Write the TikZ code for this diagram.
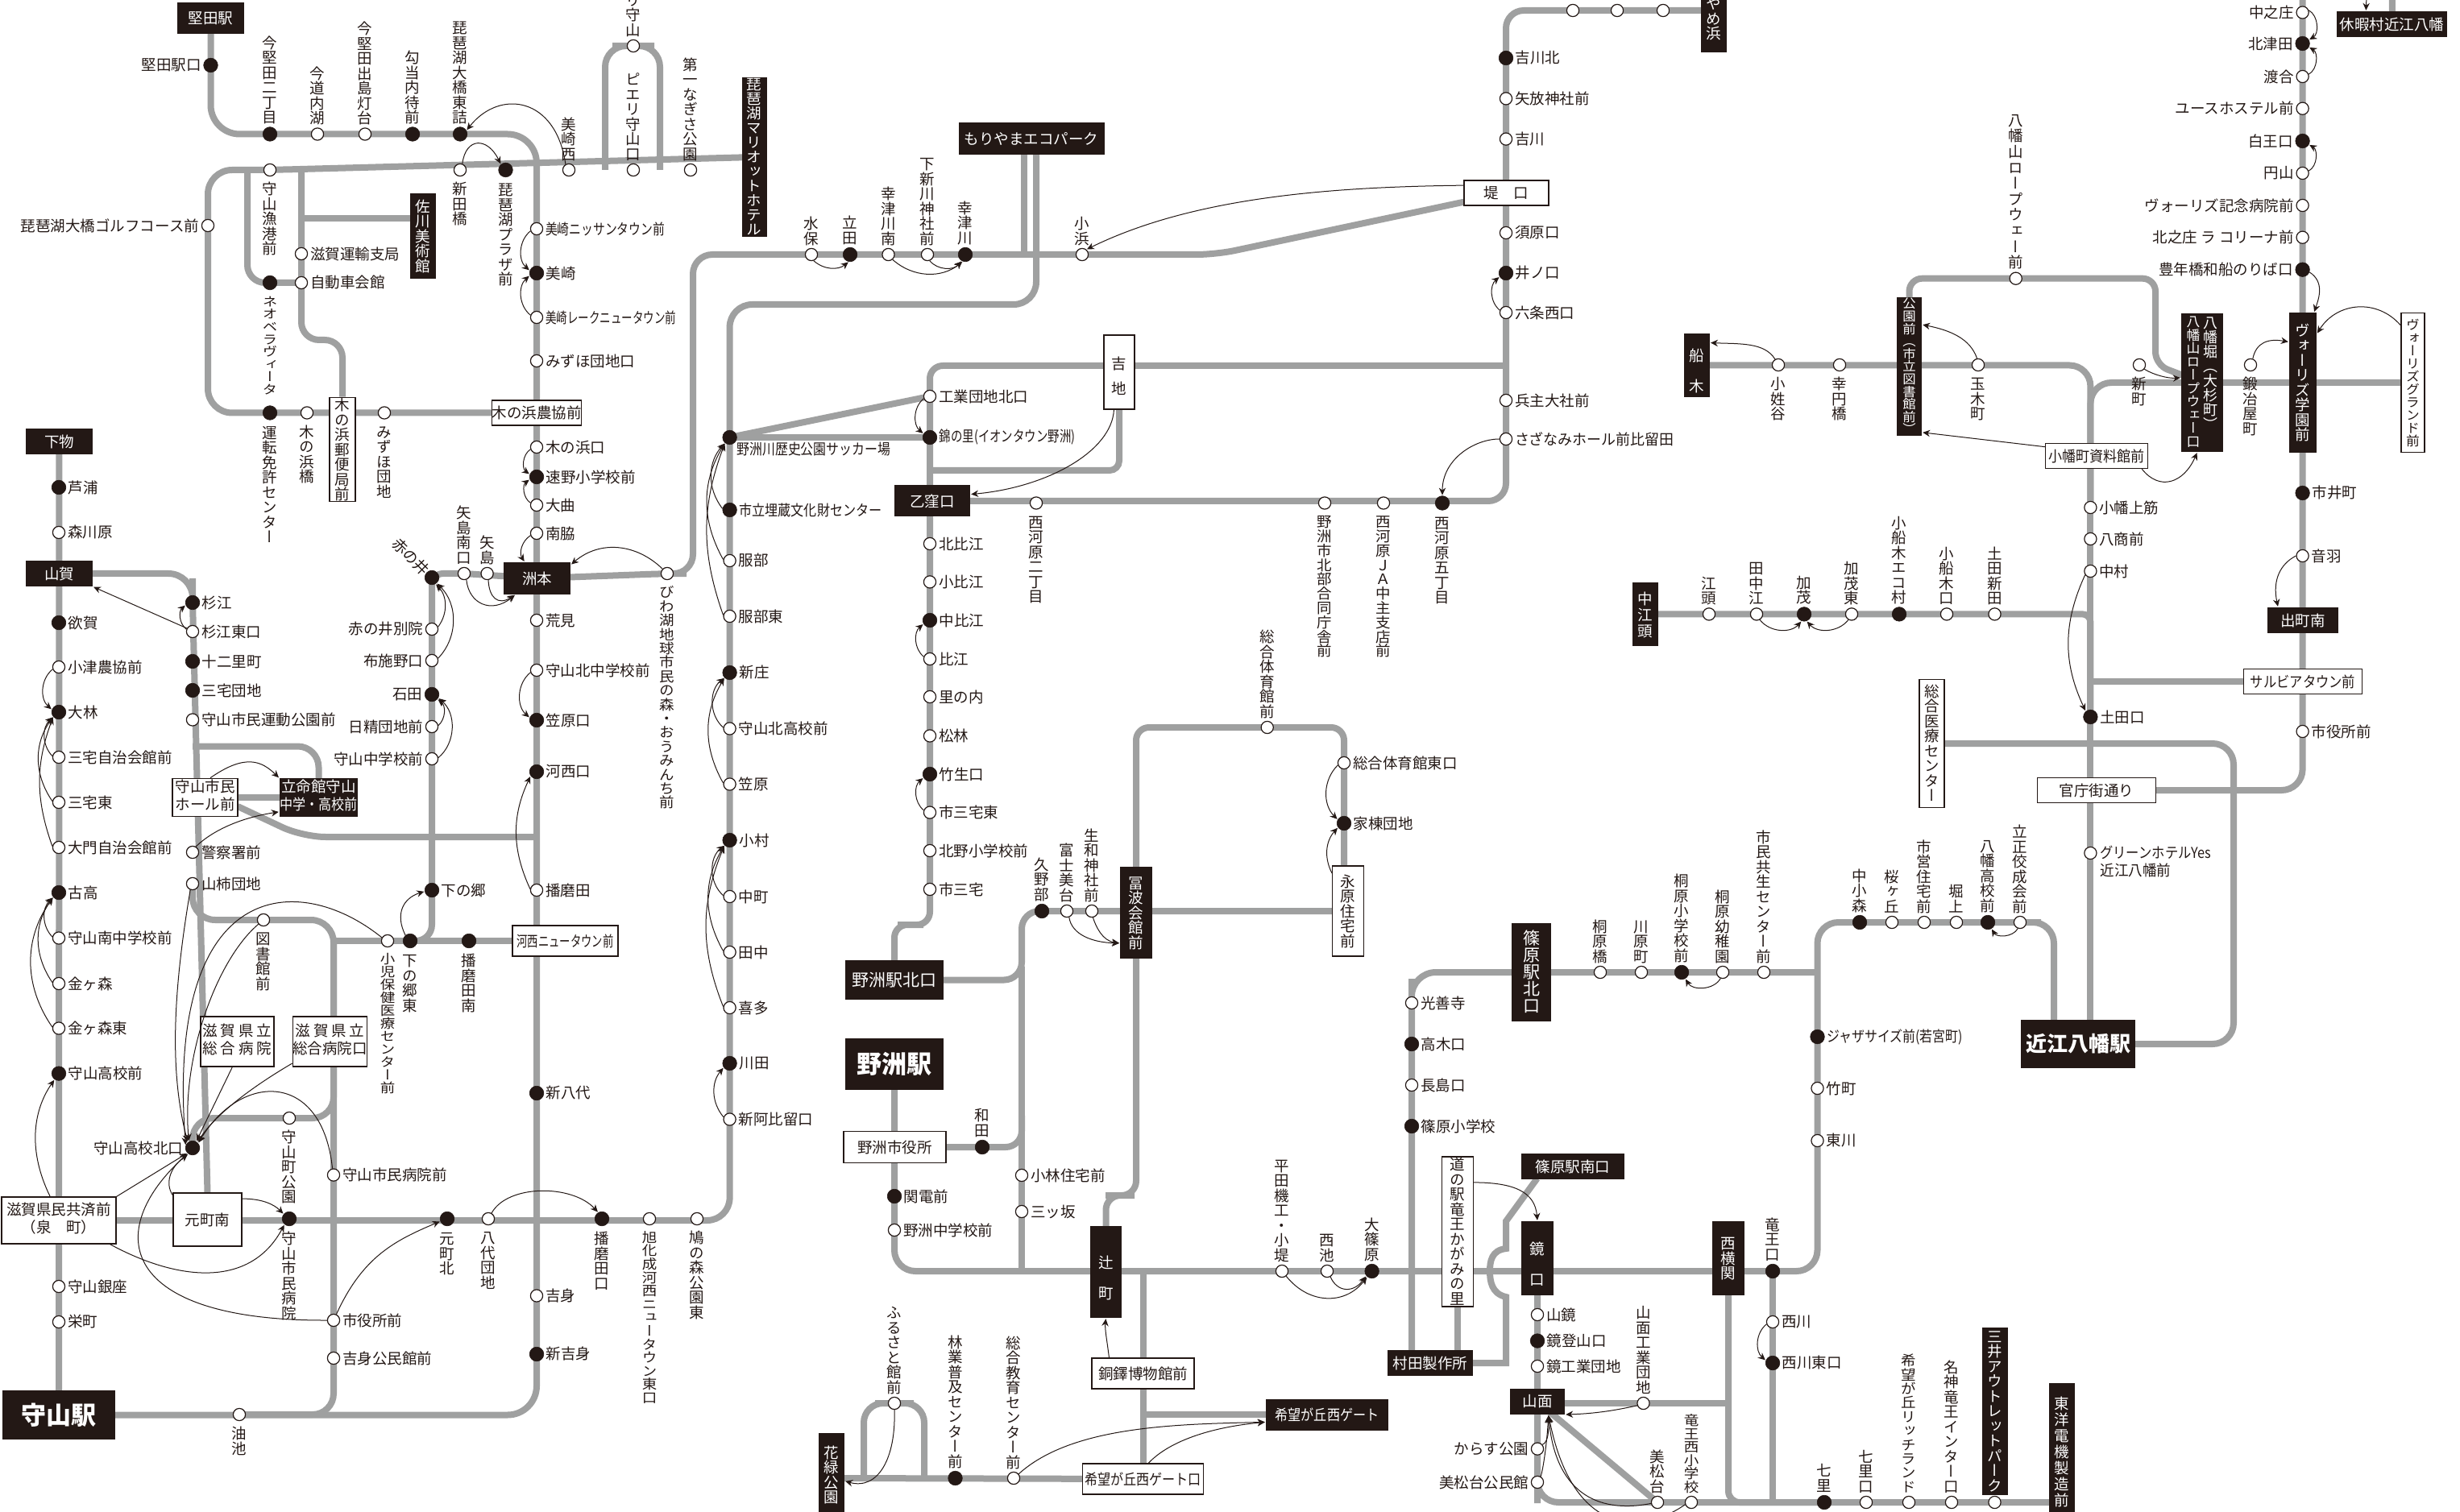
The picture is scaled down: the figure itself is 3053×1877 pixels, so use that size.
\documentclass[tikz,border=0pt]{standalone}
\usepackage{fontspec}
\usepackage{graphicx}
\usetikzlibrary{arrows.meta,backgrounds}
\setmainfont{Noto Sans CJK JP}
\newfontfamily\jv[RawFeature=+vert]{Noto Sans CJK JP}
\definecolor{ink}{HTML}{231815}
\definecolor{rt}{HTML}{9FA0A0}
\newdimen\vtp
\newdimen\vtem
\def\vte{\vte}
\def\vdflt{9.25pt}
\def\vtl#1{\ifx#1\vte\else\hbox to 1em{\vrule height .88\vtp depth .12\vtp width 0pt\hss\smash{\scalebox{1}[\vtr]{#1}}\hss}\expandafter\vtl\fi}
\newcommand\vt[2][\vdflt]{\vbox{\offinterlineskip\vtp=#1\relax\jv\vtem=1em\relax\pgfmathsetmacro\vtr{min(1,\the\vtp/\the\vtem)}\vtl#2\vte}}
\newcommand\Sq[2]{\scalebox{#1}[1]{#2}}
\newcommand\Fs[1]{\fontsize{#1}{#1}\selectfont}
\newcommand\Ln[2]{\begin{tabular}{@{}c@{}}#1\\#2\end{tabular}}
\newcommand\labR[2]{\node[lab,anchor=west] (#1t) at ([xshift=1.2pt]#1.east) {#2};}
\newcommand\labL[2]{\node[lab,anchor=east] (#1t) at ([xshift=-1.2pt]#1.west) {#2};}
\newcommand\labA[2]{\node[lab,anchor=south] (#1t) at ([yshift=1pt]#1.north) {\vt{#2}};}
\newcommand\labB[2]{\node[lab,anchor=north] (#1t) at ([yshift=-3pt]#1.south) {\vt{#2}};}
\newcommand\labN[2]{}
\newcommand\St[6]{\node[st#2] (#1) at (#3,#4) {}; \csname lab#5\endcsname{#1}{#6}}
\newcommand\StP[7]{\def\vdflt{#1}\St{#2}{#3}{#4}{#5}{#6}{#7}\def\vdflt{9.25pt}}
\newcommand\Bx[7]{\node[box#2,minimum width=#5*.5pt,minimum height=#6*.5pt] (#1) at (#3,#4) {#7};}
\tikzset{
  every node/.style={font=\fontsize{9.25pt}{11.3pt}\selectfont,text=ink},
  sto/.style={circle,draw=ink,fill=white,line width=.6pt,minimum size=7.6pt,inner sep=0pt},
  stc/.style={circle,draw=ink,fill=ink,line width=.3pt,minimum size=8.8pt,inner sep=0pt},
  lab/.style={inner sep=0pt},
  boxk/.style={fill=ink,text=white,inner sep=0pt},
  boxw/.style={fill=white,draw=ink,line width=.6pt,inner sep=0pt},
  route/.style={draw=rt,line width=4pt},
  arr/.style={draw=ink,line width=.5pt,-{Stealth[length=4.5pt,width=4.2pt]},shorten >=.4pt},
}
\begin{document}
\begin{tikzpicture}[x=.5pt,y=-.5pt]
\useasboundingbox (0,0) rectangle (3053,1877);
% ---------- boxes
\Bx{katata}{k}{261.5}{23}{83}{39}{堅田駅}
\Bx{mari}{k}{936}{195}{31}{190}{\vt[9pt]{琵琶湖マリオットホテル}}
\Bx{sagawa}{k}{525}{293}{32}{106}{\vt{佐川美術館}}
\Bx{kihamap}{w}{425}{558}{32}{128}{\vt{木の浜郵便局前}}
\Bx{kihamaj}{w}{666}{512.5}{106}{31}{木の浜農協前}
\Bx{shimo}{k}{73.5}{548}{83}{32}{下物}
\Bx{yamaga}{k}{73.5}{712}{83}{32}{山賀}
\Bx{susu}{k}{666.5}{718}{83}{40}{洲本}
\Bx{hall}{w}{254.5}{990}{81}{47.5}{\Ln{守山市民}{ホール前}}
\Bx{ritsu}{k}{395.5}{990}{97}{47.5}{\Ln{立命館守山}{\Sq{.87}{中学・高校前}}}
\Bx{kase}{w}{701.5}{1168}{131}{38}{\Sq{.72}{河西ニュータウン前}}
\Bx{kenr}{w}{294.5}{1293}{91}{62}{\Ln{滋\hspace{2pt}賀\hspace{2pt}県\hspace{2pt}立}{総\hspace{2pt}合\hspace{2pt}病\hspace{2pt}院}}
\Bx{kenrg}{w}{409.5}{1293}{91}{62}{\Ln{滋\hspace{2pt}賀\hspace{2pt}県\hspace{2pt}立}{総合病院口}}
\Bx{kyosai}{w}{73}{1515}{142}{58}{\Ln{滋賀県民共済前}{（泉　町）}}
\Bx{motom}{w}{257.5}{1514}{85}{66}{元町南}
\Bx{morist}{k}{73}{1756.5}{140}{61}{{\Fs{15.5pt}\bfseries 守山駅}}
\Bx{moep}{k}{1280}{172}{181}{40}{もりやまエコパーク}
\Bx{tsutsu}{w}{1869.5}{239.5}{105}{31}{堤　口}
\Bx{yoshiji}{w}{1389}{462}{38}{92}{\vt[15.5pt]{吉地}}
\Bx{okubo}{k}{1157}{622}{94}{39}{乙窪口}
\Bx{noyk}{k}{1110}{1216.5}{122.5}{49}{{\Fs{10.5pt}野洲駅北口}}
\Bx{tonami}{k}{1410}{1133}{39.5}{114}{\vt{冨波会館前}}
\Bx{naga}{w}{1673}{1131}{38.5}{112}{\vt{永原住宅前}}
\Bx{noy}{k}{1110}{1321}{122.5}{64}{{\Fs{15.5pt}\bfseries 野洲駅}}
\Bx{noshi}{w}{1110.5}{1424}{127}{38.5}{野洲市役所}
\Bx{tsuji}{k}{1372.5}{1579}{39}{114}{\vt[19pt]{辻町}}
\Bx{doto}{w}{1418.5}{1705}{127}{38}{銅鐸博物館前}
\Bx{kibo}{k}{1647}{1756}{152}{39}{\Sq{.87}{希望が丘西ゲート}}
\Bx{kibog}{w}{1418.5}{1836}{150}{38}{\Sq{.87}{希望が丘西ゲート口}}
\Bx{kary}{k}{1032}{1831}{32}{104}{\vt{花緑公園}}
\Bx{shino}{k}{1900.5}{1207}{49}{122}{{\Fs{10.5pt}\vt[10.5pt]{篠原駅北口}}}
\Bx{michi}{w}{1809}{1529}{38.5}{186}{\vt{道の駅竜王かがみの里}}
\Bx{murata}{k}{1775}{1692}{106}{32}{村田製作所}
\Bx{shinm}{k}{1952}{1448}{128.5}{32}{篠原駅南口}
\Bx{kaga}{k}{1908}{1562}{39.5}{92}{\vt[19pt]{鏡口}}
\Bx{yamo}{k}{1908}{1740}{68}{32}{山面}
\Bx{nishiy}{k}{2145}{1562}{39.5}{92}{\vt{西横関}}
\Bx{mitsui}{k}{2476}{1751.5}{32}{208}{\vt{三井アウトレットパーク}}
\Bx{toyo}{k}{2559}{1802}{32.5}{170}{\vt[10pt]{東洋電機製造前}}
\Bx{omi}{k}{2579}{1296}{142}{60.5}{{\Fs{13pt}\bfseries 近江八幡駅}}
\Bx{soiry}{w}{2397.5}{923}{31}{159}{\vt{総合医療センター}}
\Bx{kancho}{w}{2602}{981}{147}{31}{官庁街通り}
\Bx{sarubi}{w}{2858}{846}{147}{31}{\Sq{.88}{サルビアタウン前}}
\Bx{demachi}{k}{2858}{770}{88}{32}{出町南}
\Bx{nakae}{k}{2042}{762.5}{32}{79.5}{\vt[10pt]{中江頭}}
\Bx{funaki}{k}{2106}{453.5}{31.5}{79}{\vt[19pt]{船木}}
\Bx{koen}{k}{2369.5}{455}{31}{166}{{\Fs{8.2pt}\vt[7.8pt]{公園前（市立図書館前）}}}
\Bx{hachi}{k}{2733}{475}{52}{172}{}
\node[lab,text=white,anchor=north] (hachil) at (2722,391) {{\Fs{8.4pt}\vt[8.25pt]{八幡山ロープウェー口}}};
\node[lab,text=white,anchor=north] (hachir) at (2743,391) {{\Fs{9pt}\vt[9pt]{八幡堀（大杉町）}}};
\Bx{vori}{k}{2858}{475}{34}{173.5}{\vt{ヴォーリズ学園前}}
\Bx{vorig}{w}{2994.5}{475}{29}{173.5}{{\Fs{8.4pt}\vt[8pt]{ヴォーリズグランド前}}}
\Bx{yame}{k}{2127}{14}{32}{102}{\vt{あやめ浜}}
\Bx{kyuka}{k}{2968.5}{30}{137}{32}{休暇村近江八幡}
\Bx{koban}{w}{2602}{566}{127}{31}{\Sq{.92}{小幡町資料館前}}
% ---------- stations
\St{a1}{c}{261.5}{81}{L}{堅田駅口}
\St{a2}{c}{335}{166.5}{A}{今堅田二丁目}
\St{a3}{o}{394}{166.5}{A}{今道内湖}
\St{a4}{o}{453}{166.5}{A}{今堅田出島灯台}
\St{a5}{c}{512}{166.5}{A}{勾当内待前}
\St{a6}{c}{571}{166.5}{A}{琵琶湖大橋東詰}
\St{b1}{o}{335}{211}{B}{守山漁港前}
\St{b2}{o}{571}{211}{B}{新田橋}
\St{b3}{c}{627.5}{211}{B}{琵琶湖プラザ前}
\St{b4}{o}{706}{211}{A}{美崎西}
\St{b5}{o}{786}{211}{A}{ピエリ守山口}
\St{b6}{o}{857}{211}{A}{第一なぎさ公園}
\St{b7}{o}{786}{57}{A}{ピエリ守山}
\St{c1}{o}{258}{280}{L}{琵琶湖大橋ゴルフコース前}
\StP{7.8pt}{c2}{c}{335}{351}{B}{ネオベラヴィータ}
\St{c3}{o}{374}{351}{R}{自動車会館}
\St{c4}{o}{374}{315}{R}{滋賀運輸支局}
\St{d1}{c}{335}{512.5}{B}{運転免許センター}
\St{d2}{o}{381}{512.5}{B}{木の浜橋}
\St{d3}{o}{477}{512.5}{B}{みずほ団地}
\St{e1}{o}{666}{284}{R}{\Sq{.8}{美崎ニッサンタウン前}}
\St{e2}{c}{666}{339}{R}{美崎}
\St{e3}{o}{666}{394}{R}{\Sq{.73}{美崎レークニュータウン前}}
\St{e4}{o}{666}{448}{R}{みずほ団地口}
\St{e5}{o}{666}{555}{R}{木の浜口}
\St{e6}{c}{666}{592}{R}{速野小学校前}
\St{e7}{o}{666}{627}{R}{大曲}
\St{e8}{o}{666}{662}{R}{南脇}
\St{e9}{o}{666}{770}{R}{荒見}
\St{e10}{o}{666}{832}{R}{守山北中学校前}
\St{e11}{c}{666}{894}{R}{笠原口}
\St{e12}{c}{666}{958}{R}{河西口}
\St{e13}{o}{666}{1105}{R}{播磨田}
\St{e14}{c}{666}{1357}{R}{新八代}
\St{e15}{o}{666}{1608.5}{R}{吉身}
\St{e16}{c}{666}{1681}{R}{新吉身}
\St{f1}{c}{73}{605}{R}{芦浦}
\St{f2}{o}{73}{661}{R}{森川原}
\St{f3}{c}{73}{773}{R}{欲賀}
\St{f4}{o}{73}{828}{R}{小津農協前}
\St{f5}{c}{73}{884}{R}{大林}
\St{f6}{o}{73}{940}{R}{三宅自治会館前}
\St{f7}{o}{73}{996}{R}{三宅東}
\St{f8}{o}{73}{1052}{R}{大門自治会館前}
\St{f9}{c}{73}{1108}{R}{古高}
\St{f10}{o}{73}{1164.5}{R}{守山南中学校前}
\St{f11}{o}{73}{1221}{R}{金ヶ森}
\St{f12}{o}{73}{1276.5}{R}{金ヶ森東}
\St{f13}{c}{73}{1332.6}{R}{守山高校前}
\St{f14}{o}{73}{1597}{R}{守山銀座}
\St{f15}{o}{73}{1641}{R}{栄町}
\St{g1}{c}{239}{748}{R}{杉江}
\St{g2}{o}{239}{784}{R}{杉江東口}
\St{g3}{c}{239}{821}{R}{十二里町}
\St{g4}{c}{239}{857}{R}{三宅団地}
\St{g5}{o}{239}{893.5}{R}{守山市民運動公園前}
\St{g6}{o}{239}{1058}{R}{警察署前}
\St{g7}{o}{239}{1097}{R}{山柿団地}
\St{g8}{c}{239}{1425}{L}{守山高校北口}
\St{h0}{c}{536}{717}{N}{}
\node[lab,rotate=-45] (h0t) at (510,691) {赤の井};
\St{h1}{o}{536}{781}{L}{赤の井別院}
\St{h2}{o}{536}{820}{L}{布施野口}
\St{h3}{c}{536}{862}{L}{石田}
\St{h4}{o}{536}{902}{L}{日精団地前}
\St{h5}{o}{536}{942}{L}{守山中学校前}
\St{h6}{c}{536}{1105}{R}{下の郷}
\St{i1}{o}{576}{712}{A}{矢島南口}
\St{i2}{o}{604.6}{712}{A}{矢島}
\StP{8.7pt}{i3}{o}{828}{712}{B}{びわ湖地球市民の森・おうみんち前}
\StP{8pt}{j1}{o}{481}{1168}{B}{小児保健医療センター前}
\St{j2}{c}{509}{1168}{B}{下の郷東}
\St{j3}{c}{582}{1168}{B}{播磨田南}
\St{k1}{o}{327}{1142}{B}{図書館前}
\St{k2}{o}{359}{1388}{B}{守山町公園}
\St{l1}{o}{414}{1458.6}{R}{守山市民病院前}
\St{l2}{o}{414}{1639}{R}{市役所前}
\St{l3}{o}{414}{1686}{R}{吉身公民館前}
\St{m0}{o}{297}{1756}{B}{油池}
\St{n1}{c}{359}{1513}{B}{守山市民病院}
\St{n2}{c}{555}{1513}{B}{元町北}
\St{n3}{o}{606}{1513}{B}{八代団地}
\St{n4}{c}{747}{1513}{B}{播磨田口}
\StP{8.3pt}{n5}{o}{806}{1513}{B}{旭化成河西ニュータウン東口}
\St{n6}{o}{865}{1513}{B}{鳩の森公園東}
\St{p1}{c}{905.6}{543}{N}{}
\node[lab,anchor=west] (p1t) at (914,558) {\Sq{.86}{野洲川歴史公園サッカー場}};
\St{p2}{c}{905.6}{633}{R}{\Sq{.87}{市立埋蔵文化財センター}}
\St{p3}{o}{905.6}{696}{R}{服部}
\St{p4}{o}{905.6}{765}{R}{服部東}
\St{p5}{c}{905.6}{835}{R}{新庄}
\St{p6}{o}{905.6}{904.5}{R}{守山北高校前}
\St{p7}{o}{905.6}{973.5}{R}{笠原}
\St{p8}{c}{905.6}{1043}{R}{小村}
\St{p9}{o}{905.6}{1113}{R}{中町}
\St{p10}{o}{905.6}{1182}{R}{田中}
\St{p11}{o}{905.6}{1251}{R}{喜多}
\St{p12}{c}{905.6}{1320}{R}{川田}
\St{p13}{o}{905.6}{1389.5}{R}{新阿比留口}
\St{q1}{o}{1007}{316}{A}{水保}
\St{q2}{c}{1055}{316}{A}{立田}
\St{q3}{o}{1102.5}{316}{A}{幸津川南}
\St{q4}{o}{1151}{316}{A}{下新川神社前}
\St{q5}{c}{1198}{316}{A}{幸津川}
\St{q6}{o}{1343}{316}{A}{小浜}
\St{r1}{c}{1869}{72}{R}{吉川北}
\St{r2}{o}{1869}{122.4}{R}{矢放神社前}
\St{r3}{o}{1869}{172.6}{R}{吉川}
\St{r4}{o}{1869}{289}{R}{須原口}
\St{r5}{c}{1869}{339}{R}{井ノ口}
\St{r6}{o}{1869}{388}{R}{六条西口}
\St{r7}{o}{1869}{497}{R}{兵主大社前}
\St{r8}{o}{1869}{545}{R}{\Sq{.97}{さざなみホール前比留田}}
\St{t1}{o}{1952}{13}{N}{}
\St{t2}{o}{2007}{13}{N}{}
\St{t3}{o}{2064}{13}{N}{}
\St{u1}{o}{1286}{624.5}{B}{西河原二丁目}
\StP{8.9pt}{u2}{o}{1644}{624.5}{B}{野洲市北部合同庁舎前}
\StP{8.9pt}{u3}{o}{1717}{624.5}{B}{西河原ＪＡ中主支店前}
\St{u4}{c}{1790}{624.5}{B}{西河原五丁目}
\St{v1}{o}{1154}{492}{R}{工業団地北口}
\St{v2}{c}{1154}{543}{R}{\Sq{.78}{錦の里(イオンタウン野洲)}}
\St{w1}{o}{1154}{675}{R}{北比江}
\St{w2}{o}{1154}{722.4}{R}{小比江}
\St{w3}{c}{1154}{770}{R}{中比江}
\St{w4}{o}{1154}{818}{R}{比江}
\St{w5}{o}{1154}{865}{R}{里の内}
\St{w6}{o}{1154}{913.5}{R}{松林}
\St{w7}{c}{1154}{961}{R}{竹生口}
\St{w8}{o}{1154}{1008.6}{R}{市三宅東}
\St{w9}{o}{1154}{1056}{R}{北野小学校前}
\St{w10}{o}{1154}{1104}{R}{市三宅}
\St{x1}{c}{1293}{1131}{A}{久野部}
\St{x2}{o}{1324}{1131}{A}{富士美台}
\St{x3}{o}{1355}{1131}{A}{生和神社前}
\St{y1}{o}{1572.7}{903}{A}{総合体育館前}
\St{y2}{o}{1668}{947}{R}{総合体育館東口}
\St{y3}{c}{1668}{1022}{R}{家棟団地}
\St{aa1}{c}{1219}{1424}{A}{和田}
\St{aa2}{c}{1110}{1485}{R}{関電前}
\St{aa3}{o}{1110}{1527}{R}{野洲中学校前}
\St{aa4}{o}{1268}{1459}{R}{小林住宅前}
\St{aa5}{o}{1268}{1504}{R}{三ッ坂}
\St{ab1}{o}{1591}{1578}{A}{平田機工・小堤}
\St{ab2}{o}{1647}{1578}{A}{西池}
\St{ab3}{c}{1702.6}{1578}{A}{大篠原}
\St{ac1}{o}{1752}{1245}{R}{光善寺}
\St{ac2}{c}{1752}{1296}{R}{高木口}
\St{ac3}{o}{1752}{1347}{R}{長島口}
\St{ac4}{c}{1752}{1398}{R}{篠原小学校}
\St{ad1}{o}{1908}{1632}{R}{山鏡}
\St{ad2}{c}{1908}{1664.5}{R}{鏡登山口}
\St{ad3}{o}{1908}{1696}{R}{鏡工業団地}
\St{ad4}{o}{1908}{1798.6}{L}{からす公園}
\St{ad5}{o}{1908}{1840}{L}{美松台公民館}
\St{ad6}{o}{2039.5}{1742}{A}{山面工業団地}
\St{ae1}{o}{2057}{1865}{A}{美松台}
\StP{8.3pt}{ae2}{o}{2099}{1865}{A}{竜王西小学校}
\St{ae3}{c}{2264}{1865}{A}{七里}
\St{ae4}{o}{2316}{1865}{A}{七里口}
\StP{8.7pt}{ae5}{o}{2369}{1865}{A}{希望が丘リッチランド}
\St{ae6}{o}{2422}{1865}{A}{名神竜王インター口}
\St{ae7}{o}{2475.5}{1865}{N}{}
\St{af1}{c}{2200}{1578}{A}{竜王口}
\St{af2}{o}{2200}{1641}{R}{西川}
\St{af3}{c}{2200}{1692}{R}{西川東口}
\St{ag1}{c}{2255.5}{1287}{R}{\Sq{.86}{ジャザサイズ前(若宮町)}}
\St{ag2}{o}{2255.5}{1351}{R}{竹町}
\St{ag3}{o}{2255.5}{1416}{R}{東川}
\St{ah1}{o}{1986}{1207}{A}{桐原橋}
\St{ah2}{o}{2037}{1207}{A}{川原町}
\St{ah3}{c}{2087}{1207}{A}{桐原小学校前}
\St{ah4}{o}{2138}{1207}{A}{桐原幼稚園}
\St{ah5}{o}{2189}{1207}{A}{市民共生センター前}
\St{ai1}{c}{2308}{1145}{A}{中小森}
\St{ai2}{o}{2348}{1145}{A}{桜ヶ丘}
\St{ai3}{o}{2388}{1145}{A}{市営住宅前}
\St{ai4}{o}{2428}{1145}{A}{堀上}
\St{ai5}{c}{2467}{1145}{A}{八幡高校前}
\St{ai6}{o}{2507}{1145}{A}{立正佼成会前}
\St{aj1}{o}{2121}{762.4}{A}{江頭}
\St{aj2}{o}{2180}{762.4}{A}{田中江}
\St{aj3}{c}{2239}{762.4}{A}{加茂}
\St{aj4}{o}{2298}{762.4}{A}{加茂東}
\St{aj5}{c}{2357}{762.4}{A}{小船木エコ村}
\St{aj6}{o}{2416}{762.4}{A}{小船木口}
\St{aj7}{o}{2475.5}{762.4}{A}{土田新田}
\St{ak1}{o}{2594.4}{630}{R}{小幡上筋}
\St{ak2}{o}{2594.4}{669}{R}{八商前}
\St{ak3}{o}{2594.4}{709}{R}{中村}
\St{ak4}{c}{2594.4}{890}{R}{土田口}
\St{ak5}{o}{2594.4}{1059}{N}{}
\node[lab,anchor=north west] (ak5t) at (2606,1049) {\begin{tabular}{@{}l@{}}\Sq{.88}{グリーンホテルYes}\\\Sq{.95}{近江八幡前}\end{tabular}};
\St{al1}{o}{2857.6}{15.5}{L}{中之庄}
\St{al2}{c}{2857.6}{54}{L}{北津田}
\St{al3}{o}{2857.6}{95}{L}{渡合}
\St{al4}{o}{2857.6}{134.7}{L}{ユースホステル前}
\St{al5}{c}{2857.6}{175}{L}{白王口}
\St{al6}{o}{2857.6}{215}{L}{円山}
\St{al7}{o}{2857.6}{255}{L}{ヴォーリズ記念病院前}
\St{al8}{o}{2857.6}{294.7}{L}{北之庄 ラ コリーナ前}
\St{al9}{c}{2857.6}{334.7}{L}{豊年橋和船のりば口}
\St{al10}{c}{2857.6}{612}{R}{市井町}
\St{al11}{o}{2857.6}{690}{R}{音羽}
\St{al12}{o}{2857.6}{908}{R}{市役所前}
\St{am1}{o}{2207}{453}{B}{小姓谷}
\St{am2}{o}{2283}{453}{B}{幸円橋}
\St{am3}{o}{2455}{453}{B}{玉木町}
\St{am4}{o}{2655}{453}{B}{新町}
\St{am5}{o}{2793}{453}{B}{鍛冶屋町}
\StP{9.8pt}{am6}{o}{2501.7}{345.7}{A}{八幡山ロープウェー前}
\St{an1}{o}{1110}{1742}{A}{ふるさと館前}
\St{an2}{c}{1185.5}{1835}{A}{林業普及センター前}
\St{an3}{o}{1258}{1835}{A}{総合教育センター前}
% ---------- free points of the routes
\coordinate (lpl) at (751,211);
\coordinate (lpr) at (819,211);
\coordinate (br1) at (307,211);
\coordinate (br2) at (374,211);
\coordinate (kink) at (374,422);
\coordinate (br3) at (374,271);
\coordinate (br4) at (239,926.5);
\coordinate (br5) at (295,1001);
\coordinate (br6) at (376,1039);
\coordinate (br7) at (666,1039);
\coordinate (jn) at (414,1168);
\coordinate (cc1) at (860,316);
\coordinate (dk1) at (1509,316);
\coordinate (ep1) at (1271,172);
\coordinate (ep2) at (1286,172);
\coordinate (cc2) at (905.6,378);
\coordinate (br8) at (1869,454);
\coordinate (br9) at (1154,584);
\coordinate (s1) at (1130,1148);
\coordinate (cc3) at (1268,1131);
\coordinate (cc3b) at (1268,1200);
\coordinate (jct) at (1268,1578);
\coordinate (cc4) at (1268,1385);
\coordinate (om1) at (2549,1296);
\coordinate (s2) at (1390,1484);
\coordinate (jc5) at (2255.5,1207);
\coordinate (mb1) at (1869,1610);
\coordinate (mb2) at (1849,1578);
\coordinate (mb3) at (1869,1550);
\coordinate (mb4) at (1869,1516);
\coordinate (mb5) at (1907.6,1463);
\coordinate (jc6) at (2145,1742);
\coordinate (lp3) at (1072,1835);
\coordinate (lp4) at (1147,1835);
\coordinate (jc8) at (2675,453);
\coordinate (al0) at (2857.6,-6);
\coordinate (om2) at (2772,1296);
\coordinate (ky0) at (2969,-6);
\coordinate (ky1) at (2937,-6);
% ---------- routes
\begin{pgfonlayer}{background}
\draw[route,rounded corners=18pt] (katata.center) |- (a6.center) -| (e16.center) |- (morist.center);
\draw[route,rounded corners=15pt] (mari.center) -- (b1.center) -| (c1.center) |- (kihamaj.center);
\draw[route,rounded corners=13pt] (lpl) |- (b7.center) -| (lpr);
\draw[route,rounded corners=11pt] (br1) |- (c3.center);
\draw[route,rounded corners=11pt] (br2) -- (kink) -| (kihamap.north);
\draw[route] (br3) -- (sagawa.west |- br3);
\draw[route] (shimo.center) -- (morist.center);
\draw[route,rounded corners=15pt] (yamaga.center) -| (g1.center) -- (motom.north);
\draw[route,rounded corners=13pt] (br4) -| (ritsu.north);
\draw[route] (hall.center) -- (ritsu.center);
\draw[route,rounded corners=14pt] (br5) -- (br6) -- (br7);
\draw[route,rounded corners=14pt] (g7.center) |- (k1.center) -| (jn);
\draw[route,rounded corners=13pt] (jn) |- (k2.center) -| (g8.center);
\draw[route,rounded corners=13pt] (jn) -- (l3.center) |- (m0.center);
\draw[route] (jn) -- (kase.center);
\draw[route,rounded corners=7pt] (i1.center) -| (h1.center) -- (h6.center);
\draw[route] (susu.center) -- (i1.center);
\draw[route,rounded corners=10pt] (h6.center) |- (j2.center);
\draw[route,rounded corners=12pt] (susu.center) -- (i3.center) -| (cc1) -- (q6.center) -- (dk1) -- (tsutsu.center);
\draw[route] (ep1) -- (ep1 |- q5.center);
\draw[route,rounded corners=14pt] (ep2) |- (cc2) -- (p13.center) |- (kyosai.center);
\draw[route,rounded corners=11pt] (yame.center |- t3.center) -- (t1.center) -| (r1.center) -- (r8.center) |- (okubo.center);
\draw[route,rounded corners=8pt] (br8) -| (v1.center) -- (w10.center) |- (s1) -| (noyk.center);
\draw[route] (v1.center) -- (p1.center);
\draw[route] (v2.center) -- (p1.center);
\draw[route,rounded corners=6pt] (yoshiji.center) |- (br9);
\draw[route,rounded corners=11pt] (noyk.center) -| (cc3) -- (naga.center);
\draw[route] (cc3b) -- (jct);
\draw[route,rounded corners=10pt] (noshi.center) -- (aa1.center) -| (cc4);
\draw[route,rounded corners=13pt] (noy.center) -- (aa3.center) |- (ab1.center) -- (af1.center) -| (ag1.center) |- (ai1.center) -- (ai6.center) -| (om1);
\draw[route,rounded corners=8pt] (tonami.center) |- (y1.center) -| (y3.center) -- (y3.center |- naga.center);
\draw[route,rounded corners=9pt] (tonami.center) |- (s2) -| (tsuji.center);
\draw[route,rounded corners=15pt] (jc5) -| (ac1.center) -- (ac4.center |- murata.center);
\draw[route] (michi.center) -- (michi.center |- murata.center);
\draw[route] (murata.center) -| (mb1) .. controls (1851,1606) and (1849,1590) .. (mb2) .. controls (1849,1566) and (1851,1552) .. (mb3) -- (mb4) -- (mb5);
\draw[route,rounded corners=13pt] (kaga.center) -- (ad3.center) -- (ad5.center) |- (ae1.center) -- (toyo.center |- ae1.center);
\draw[route] (yamo.center |- ad6.center) -- (jc6);
\draw[route,rounded corners=7pt] (nishiy.center) |- (ae3.center);
\draw[route] (yamo.center) -- (ae1.center);
\draw[route] (af1.center) -- (af1.center |- ae1.center);
\draw[route] (kary.center |- an2.center) -- (kibog.center);
\draw[route,rounded corners=12pt] (lp3) |- (an1.center) -| (lp4);
\draw[route] (doto.center |- ab1.center) -- (kibog.center);
\draw[route] (kibo.center) -- (doto.center |- kibo.center);
\draw[route,rounded corners=13pt] (funaki.center) -| (ak1.center);
\draw[route,rounded corners=13pt] (vorig.center) -| (ak1.center);
\draw[route] (ak1.center) -- (ak1.center |- omi.center);
\draw[route,rounded corners=8pt] (koen.center) |- (am6.center) -| (jc8) -- (hachi.center);
\draw[route,rounded corners=5pt] (nakae.center) -- (aj7.center) -| (ak4.center);
\draw[route,rounded corners=13pt] (al0) -- (al12.center) |- (kancho.center);
\draw[route] (sarubi.center) -- (ak1.center |- sarubi.center);
\draw[route,rounded corners=13pt] (soiry.center) -| (om2) -- (omi.center);
\draw[route] (kyuka.center) -- (ky0);
\end{pgfonlayer}
% ---------- transfer arrows
\draw[arr] (b4.120) .. controls (690,120) and (620,110) .. (a6.30);
\draw[arr] (b2.70) .. controls (578,170) and (605,170) .. (b3.130);
\draw[arr] (e1.200) to[bend right=50] (e2.160);
\draw[arr] (e3.160) to[bend left=50] (e2.200);
\draw[arr] (e5.200) to[bend right=55] (e6.160);
\draw[arr] (e7.160) to[bend left=55] (e6.200);
\draw[arr] (e8.200) to[bend right=45] (susu.127);
\draw[arr] (i3.135) .. controls (790,675) and (745,670) .. (susu.22);
\draw[arr] (i1.-70) .. controls (582,750) and (610,762) .. (susu.217);
\draw[arr] (i2.-80) .. controls (607,742) and (618,752) .. (susu.217);
\draw[arr] (g2.160) to[bend left=50] (g1.200);
\draw[arr] (g2.150) -- (yamaga.south east);
\draw[arr] (h1.20) to[bend right=40] (h0.-60);
\draw[arr] (h2.20) to[bend right=45] (h0.-50);
\draw[arr] (h4.10) to[bend right=50] (h3.-40);
\draw[arr] (h5.10) to[bend right=50] (h3.-30);
\draw[arr] (f4.200) to[bend right=50] (f5.160);
\draw[arr] (f6.170) to[bend left=45] (f5.220);
\draw[arr] (f7.170) to[bend left=35] (f5.220);
\draw[arr] (f8.170) to[bend left=20] (f5.220);
\draw[arr] (f10.170) to[bend left=45] (f9.220);
\draw[arr] (f11.170) to[bend left=35] (f9.220);
\draw[arr] (f12.170) to[bend left=35] (f9.220);
\draw[arr] (kyosai.110) .. controls (35,1430) and (40,1380) .. (f13.235);
\draw[arr] (hall.75) .. controls (305,935) and (325,945) .. (ritsu.north west);
\draw[arr] (g6.60) .. controls (265,1030) and (300,1015) .. (ritsu.200);
\draw[arr] (e13.170) to[bend left=25] (e12.215);
\draw[arr] (e10.200) to[bend right=50] (e11.160);
\draw[arr] (j2.130) .. controls (490,1135) and (500,1115) .. (h6.190);
\draw[arr] (j1.150) .. controls (370,1080) and (205,1090) .. (g8.160);
\draw[arr] (g7.250) .. controls (215,1230) and (210,1330) .. (g8.130);
\draw[arr] (k1.220) .. controls (270,1190) and (225,1310) .. (g8.120);
\draw[arr] (kenr.259) -- (g8.60);
\draw[arr] (kenrg.210) .. controls (320,1345) and (270,1380) .. (g8.50);
\draw[arr] (l1.100) .. controls (400,1330) and (300,1330) .. (g8.40);
\draw[arr] (kyosai.north east) -- (g8.225);
\draw[arr] (motom.145) .. controls (205,1470) and (210,1450) .. (g8.235);
\draw[arr] (l2.180) .. controls (150,1640) and (125,1530) .. (g8.230);
\draw[arr] (motom.31) .. controls (325,1488) and (340,1495) .. (n1.140);
\draw[arr] (kyosai.-25) .. controls (220,1590) and (310,1600) .. (n1.-130);
\draw[arr] (l2.65) .. controls (450,1560) and (490,1540) .. (n2.200);
\draw[arr] (n3.60) .. controls (630,1470) and (710,1470) .. (n4.120);
\draw[arr] (p13.160) to[bend left=40] (p12.215);
\draw[arr] (p9.170) to[bend left=50] (p8.225);
\draw[arr] (p10.170) to[bend left=30] (p8.225);
\draw[arr] (p11.170) to[bend left=22] (p8.225);
\draw[arr] (p6.170) to[bend left=50] (p5.225);
\draw[arr] (p7.170) to[bend left=30] (p5.225);
\draw[arr] (p2.170) to[bend left=40] (p1.230);
\draw[arr] (p3.170) to[bend left=30] (p1.230);
\draw[arr] (p4.170) to[bend left=20] (p1.230);
\draw[arr] (q1.-70) to[bend right=40] (q2.-100);
\draw[arr] (q3.-50) to[bend right=40] (q5.-110);
\draw[arr] (q4.-70) to[bend right=50] (q5.-120);
\draw[arr] (tsutsu.170) .. controls (1650,232) and (1480,245) .. (q6.50);
\draw[arr] (r6.160) to[bend left=50] (r5.210);
\draw[arr] (v1.200) to[bend right=50] (v2.150);
\draw[arr] (yoshiji.262) .. controls (1380,560) and (1300,605) .. (okubo.10);
\draw[arr] (r8.180) .. controls (1830,545) and (1790,570) .. (u4.north);
\draw[arr] (w4.160) to[bend left=50] (w3.210);
\draw[arr] (w8.160) to[bend left=50] (w7.210);
\draw[arr] (x2.-70) .. controls (1330,1160) and (1355,1170) .. (tonami.242);
\draw[arr] (x3.-80) .. controls (1360,1150) and (1368,1168) .. (tonami.242);
\draw[arr] (y2.200) to[bend right=45] (y3.150);
\draw[arr] (naga.113) to[bend left=35] (y3.215);
\draw[arr] (ab1.-50) .. controls (1625,1620) and (1670,1620) .. (ab3.-130);
\draw[arr] (ab2.-60) .. controls (1660,1605) and (1680,1605) .. (ab3.-140);
\draw[arr] (michi.72) .. controls (1880,1468) and (1905,1480) .. (kaga.north);
\draw[arr] (doto.155) .. controls (1374,1665) and (1371,1650) .. (tsuji.south);
\draw[arr] (kibog.71) .. controls (1450,1790) and (1500,1772) .. (kibo.187);
\draw[arr] (an3.40) .. controls (1330,1770) and (1460,1768) .. (kibo.187);
\draw[arr] (an1.south) .. controls (1112,1810) and (1090,1850) .. (kary.-25);
\draw[arr] (ad6.200) .. controls (2000,1752) and (1975,1755) .. (yamo.-25);
\draw[arr] (ad4.40) .. controls (1922,1790) and (1922,1775) .. (yamo.-50);
\draw[arr] (ad5.60) .. controls (1915,1825) and (1920,1790) .. (yamo.-50);
\draw[arr] (ae1.190) .. controls (1980,1880) and (1930,1850) .. (yamo.-50);
\draw[arr] (ae2.200) .. controls (2030,1910) and (1950,1900) .. (yamo.-50);
\draw[arr] (af2.200) to[bend right=50] (af3.160);
\draw[arr] (ah4.-110) to[bend left=60] (ah3.-60);
\draw[arr] (ai6.-110) to[bend left=60] (ai5.-60);
\draw[arr] (aj2.-60) to[bend right=50] (aj3.-110);
\draw[arr] (aj4.-120) to[bend left=50] (aj3.-70);
\draw[arr] (ak3.215) to[bend right=25] (ak4.130);
\draw[arr] (al11.180) .. controls (2830,700) and (2820,720) .. (demachi.152);
\draw[arr] (ky1) -- (kyuka.153);
\draw[arr] (al1.20) to[bend left=60] (al2.30);
\draw[arr] (al3.20) to[bend right=60] (al2.-30);
\draw[arr] (al6.20) to[bend right=60] (al5.-30);
\draw[arr] (al9.-20) .. controls (2885,350) and (2878,370) .. (vori.81);
\draw[arr] (vorig.102) .. controls (2950,370) and (2900,375) .. (vori.74);
\draw[arr] (am5.70) .. controls (2800,425) and (2815,420) .. (vori.109);
\draw[arr] (am4.-40) .. controls (2672,465) and (2690,470) .. (hachi.167);
\draw[arr] (am3.100) .. controls (2445,420) and (2420,410) .. (koen.73);
\draw[arr] (am1.120) .. controls (2190,425) and (2160,427) .. (funaki.60);
\draw[arr] (koban.170) -- (koen.-79);
\draw[arr] (koban.-16) .. controls (2680,610) and (2710,600) .. (hachi.-94);
\end{tikzpicture}
\end{document}
